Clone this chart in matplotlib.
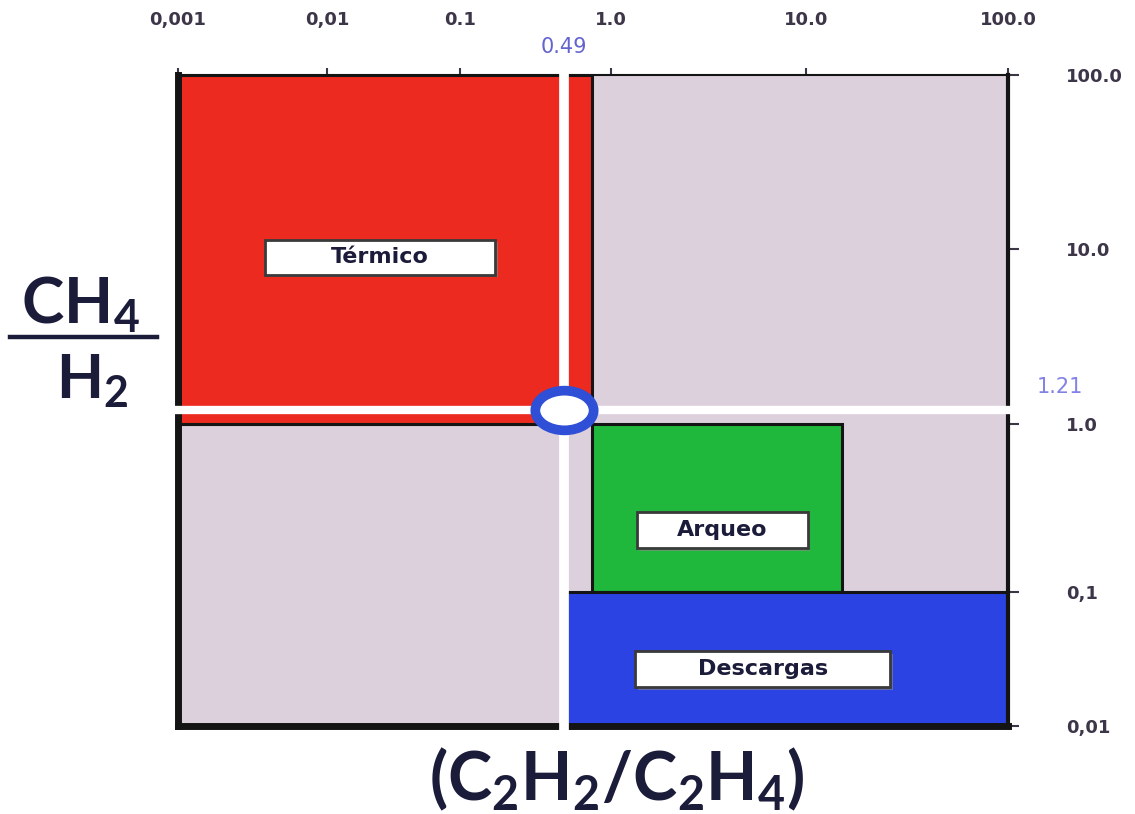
import numpy as np
import matplotlib
matplotlib.use("Agg")
import matplotlib.pyplot as plt
from matplotlib.patches import Rectangle
from matplotlib.lines import Line2D
from matplotlib.path import Path
from matplotlib.transforms import Affine2D

# ---------------- data ----------------
region_names = ["Térmico", "Arqueo", "Descargas"]
region_x_min = [0.001, 0.75, 0.5]
region_x_max = [0.75, 15.0, 100.0]
region_y_min = [1.0, 0.1, 0.01]
region_y_max = [100.0, 1.0, 0.1]

normal_x = [0.001, 0.49]
normal_y = [0.01, 1.0]

point_x = 0.49
point_y = 1.21
point_x_label = "0.49"
point_y_label = "1.21"

x_tick_values = [0.001, 0.01, 0.1, 1.0, 10.0, 100.0]
x_tick_labels = ["0,001", "0,01", "0.1", "1.0", "10.0", "100.0"]
y_tick_values = [0.01, 0.1, 1.0, 10.0, 100.0]
y_tick_labels = ["0,01", "0,1", "1.0", "10.0", "100.0"]

# ---------------- styles ----------------
region_colors = ["#ec2a1f", "#1fb83c", "#2b43e2"]
grey = "#ddd0dd"
tick_color = "#3d3548"
label_color = "#1b1b3a"

# axis geometry of the (unevenly drawn) reference axes: decade -> axes fraction
x_knot_logs = [-3, -2, -1, 0, 1, 2]
x_knot_frac = [0.0, 0.1795, 0.3398, 0.5217, 0.7566, 1.0]
y_knot_logs = [-2, -1, 0, 1, 2]
y_knot_frac = [0.0, 0.2058, 0.4639, 0.7327, 1.0]


def make_scale(logs, fracs):
    s_lo = (fracs[1] - fracs[0]) / (logs[1] - logs[0])
    s_hi = (fracs[-1] - fracs[-2]) / (logs[-1] - logs[-2])

    def fwd(v):
        v = np.asarray(v, dtype=float)
        lv = np.log10(np.clip(v, 1e-300, None))
        out = np.interp(lv, logs, fracs)
        out = np.where(lv < logs[0], fracs[0] + (lv - logs[0]) * s_lo, out)
        out = np.where(lv > logs[-1], fracs[-1] + (lv - logs[-1]) * s_hi, out)
        return out

    def inv(u):
        u = np.asarray(u, dtype=float)
        out = np.interp(u, fracs, logs)
        out = np.where(u < fracs[0], logs[0] + (u - fracs[0]) / s_lo, out)
        out = np.where(u > fracs[-1], logs[-1] + (u - fracs[-1]) / s_hi, out)
        return 10.0 ** out

    return fwd, inv


plt.rcParams["mathtext.fontset"] = "custom"
plt.rcParams["mathtext.bf"] = "Lato:bold"
plt.rcParams["mathtext.rm"] = "Lato:bold"
plt.rcParams["mathtext.it"] = "Lato:bold"

fig = plt.figure(figsize=(11.35, 8.14), dpi=100)
ax = fig.add_axes([178 / 1135, 1 - 726 / 814, 830 / 1135, 651 / 814])

ax.set_xscale("function", functions=make_scale(x_knot_logs, x_knot_frac))
ax.set_yscale("function", functions=make_scale(y_knot_logs, y_knot_frac))
ax.set_xlim(x_tick_values[0], x_tick_values[-1])
ax.set_ylim(y_tick_values[0], y_tick_values[-1])
ax.set_facecolor(grey)

# normal (unlabelled) lower-left zone
ax.add_patch(Rectangle((normal_x[0], normal_y[0]), normal_x[1] - normal_x[0],
                       normal_y[1] - normal_y[0], facecolor=grey,
                       edgecolor="#141414", lw=2.2, zorder=1))

# fault zones
for name, x0, x1, y0, y1, c in zip(region_names, region_x_min, region_x_max,
                                   region_y_min, region_y_max, region_colors):
    ax.add_patch(Rectangle((x0, y0), x1 - x0, y1 - y0, facecolor=c,
                           edgecolor="#141414", lw=2.2, zorder=1.2))

# label boxes (axes fraction geometry)
label_boxes = {
    "Térmico": (0.105, 0.693, 0.277, 0.054),
    "Arqueo": (0.553, 0.273, 0.206, 0.055),
    "Descargas": (0.551, 0.060, 0.307, 0.055),
}
for name in region_names:
    bx, by, bw, bh = label_boxes[name]
    ax.add_patch(Rectangle((bx + 0.003, by - 0.004), bw, bh, transform=ax.transAxes,
                           facecolor="#8a8a8a", edgecolor="none", zorder=3, alpha=0.6))
    ax.add_patch(Rectangle((bx, by), bw, bh, transform=ax.transAxes,
                           facecolor="white", edgecolor="#3a3a3a", lw=2.0, zorder=3.5))
    ax.text(bx + bw / 2, by + bh / 2, name, transform=ax.transAxes,
            ha="center", va="center", fontsize=16, fontweight="bold",
            color=label_color, zorder=4)

# white cross-hair lines through the sample point
ax.axvline(point_x, ymin=-0.012, ymax=1.012, color="white", lw=7, zorder=5, clip_on=False)
ax.axhline(point_y, xmin=-0.012, xmax=1.012, color="white", lw=6, zorder=5, clip_on=False)

# sample point (ellipse marker)
ell = Affine2D().scale(1.0, 0.68).transform_path(Path.unit_circle())
ax.plot([point_x], [point_y], marker=ell, markersize=42, markerfacecolor="white",
        markeredgecolor="#2f4fd6", markeredgewidth=7, zorder=6, clip_on=False,
        linestyle="none")

ax.annotate(point_x_label, xy=(point_x, 1.0), xycoords=("data", "axes fraction"),
            xytext=(0, 20), textcoords="offset points", ha="center", va="center",
            fontsize=15, color="#6464cf", annotation_clip=False)
ax.annotate(point_y_label, xy=(1.0, point_y), xycoords=("axes fraction", "data"),
            xytext=(37, 16), textcoords="offset points", ha="center", va="center",
            fontsize=15, color="#8282e6", annotation_clip=False)

# ticks
ax.xaxis.tick_top()
ax.yaxis.tick_right()
ax.set_xticks(x_tick_values)
ax.set_xticklabels(x_tick_labels)
ax.set_yticks(y_tick_values)
ax.set_yticklabels(y_tick_labels)
ax.minorticks_off()
ax.tick_params(axis="x", which="major", direction="out", length=5, width=1.5,
               color=tick_color, pad=28, labelsize=13, labelcolor=tick_color)
ax.tick_params(axis="y", which="major", direction="out", length=8, width=1.5,
               color=tick_color, pad=34, labelsize=13, labelcolor=tick_color)
for lab in ax.get_xticklabels() + ax.get_yticklabels():
    lab.set_fontweight("bold")

# spines
ax.spines["left"].set_linewidth(5)
ax.spines["bottom"].set_linewidth(5)
ax.spines["right"].set_linewidth(3)
ax.spines["top"].set_linewidth(1.5)
for s in ax.spines.values():
    s.set_color("#141414")
    s.set_zorder(4.5)

# axis titles
fig.text(80 / 1135, 1 - 323 / 814, r"$\mathbf{CH_4}$", ha="center", va="baseline",
         fontsize=46, color=label_color)
fig.add_artist(Line2D([10 / 1135, 157 / 1135], [1 - 337 / 814, 1 - 337 / 814],
                      color=label_color, lw=3.2, transform=fig.transFigure))
fig.text(92 / 1135, 1 - 398 / 814, r"$\mathbf{H_2}$", ha="center", va="baseline",
         fontsize=44, color=label_color)
fig.text(617 / 1135, 1 - 800 / 814, r"$\mathbf{(C_2H_2/C_2H_4)}$", ha="center",
         va="baseline", fontsize=48, color=label_color)

fig.savefig("out.png", dpi=100)
